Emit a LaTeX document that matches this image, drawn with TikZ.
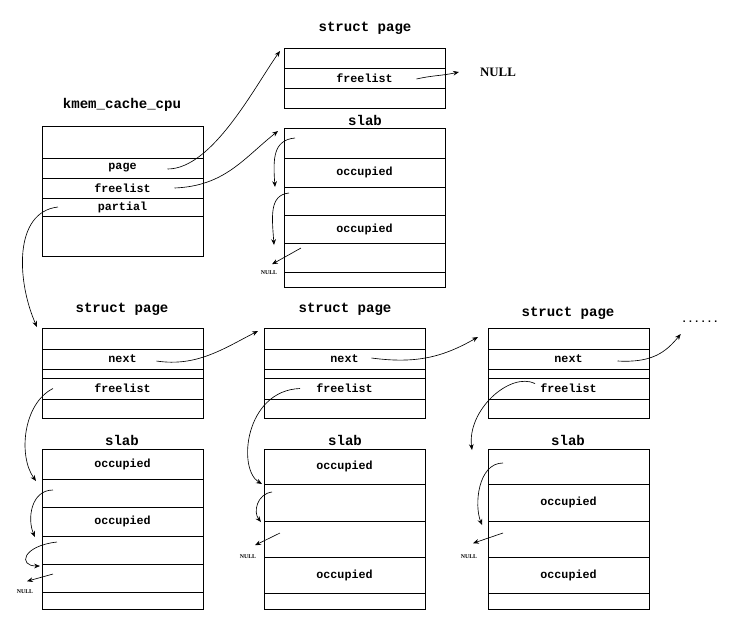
\documentclass[tikz,border=0pt]{standalone}
\usepackage{fontspec}
\newfontfamily\lbl{Liberation Mono}
\newfontfamily\nilfnt{Liberation Serif}
\usetikzlibrary{positioning,arrows.meta}
\tikzset{
  cell/.style={draw, line width=0.6pt, minimum width=4.83cm, inner sep=0pt, outer sep=0pt,
    font=\lbl\bfseries\fontsize{10}{12}\selectfont},
  title/.style={font=\lbl\bfseries\fontsize{12}{14}\selectfont},
  ptr/.style={-{Stealth[length=5pt,width=4pt]}, line width=0.55pt},
  nil/.style={font=\nilfnt\bfseries\fontsize{5}{6}\selectfont, inner sep=0.5pt},
}
\begin{document}
\begin{tikzpicture}[x=0.03cm,y=-0.03cm]
      \useasboundingbox (0,0) rectangle (729,633);
      % kmem_cache_cpu
      \node[title] (kct) at (122,105) {kmem\_cache\_cpu};
      \node[cell, anchor=north west, minimum height=0.96cm] (kc1) at (42,126) {};
      \node[cell, below=0pt of kc1, minimum height=0.6cm] (kc2) {page};
      \node[cell, below=0pt of kc2, minimum height=0.6cm] (kc3) {freelist};
      \node[cell, below=0pt of kc3, minimum height=0.54cm] (kc4) {partial};
      \node[cell, below=0pt of kc4, minimum height=1.2cm] (kc5) {};
      % current page and its slab
      \node[title] (tpt) at (365,28) {struct page};
      \node[cell, anchor=north west, minimum height=0.6cm] (tp1) at (284,48) {};
      \node[cell, below=0pt of tp1, minimum height=0.6cm] (tp2) {freelist};
      \node[cell, below=0pt of tp2, minimum height=0.6cm] (tp3) {};
      \node[font=\nilfnt\bfseries\fontsize{11}{13}\selectfont] (nulltop) at (498,72) {NULL};
      \node[title] (tst) at (365,120) {slab};
      \node[cell, anchor=north west, minimum height=0.9cm] (ts1) at (284,128) {};
      \node[cell, below=0pt of ts1, minimum height=0.87cm] (ts2) {occupied};
      \node[cell, below=0pt of ts2, minimum height=0.84cm] (ts3) {};
      \node[cell, below=0pt of ts3, minimum height=0.84cm] (ts4) {occupied};
      \node[cell, below=0pt of ts4, minimum height=0.87cm] (ts5) {};
      \node[cell, below=0pt of ts5, minimum height=0.45cm] (ts6) {};
      \node[nil] (nila) at (269,273) {NULL};
      % partial list: first page
      \node[title] (lpt) at (122,309) {struct page};
      \node[cell, anchor=north west, minimum height=0.63cm] (lp1) at (42,328) {};
      \node[cell, below=0pt of lp1, minimum height=0.6cm] (lp2) {next};
      \node[cell, below=0pt of lp2, minimum height=0.27cm] (lp3) {};
      \node[cell, below=0pt of lp3, minimum height=0.63cm] (lp4) {freelist};
      \node[cell, below=0pt of lp4, minimum height=0.57cm] (lp5) {};
      \node[title] (lst) at (122,440) {slab};
      \node[cell, anchor=north west, minimum height=0.9cm] (ls1) at (42,449) {occupied};
      \node[cell, below=0pt of ls1, minimum height=0.84cm] (ls2) {};
      \node[cell, below=0pt of ls2, minimum height=0.87cm] (ls3) {occupied};
      \node[cell, below=0pt of ls3, minimum height=0.84cm] (ls4) {};
      \node[cell, below=0pt of ls4, minimum height=0.84cm] (ls5) {};
      \node[cell, below=0pt of ls5, minimum height=0.51cm] (ls6) {};
      \node[nil] (nilb) at (25,592) {NULL};
      % second page
      \node[title] (mpt) at (345,309) {struct page};
      \node[cell, anchor=north west, minimum height=0.63cm] (mp1) at (264,328) {};
      \node[cell, below=0pt of mp1, minimum height=0.6cm] (mp2) {next};
      \node[cell, below=0pt of mp2, minimum height=0.27cm] (mp3) {};
      \node[cell, below=0pt of mp3, minimum height=0.63cm] (mp4) {freelist};
      \node[cell, below=0pt of mp4, minimum height=0.57cm] (mp5) {};
      \node[title] (mst) at (345,440) {slab};
      \node[cell, anchor=north west, minimum height=1.05cm] (ms1) at (264,449) {occupied};
      \node[cell, below=0pt of ms1, minimum height=1.11cm] (ms2) {};
      \node[cell, below=0pt of ms2, minimum height=1.08cm] (ms3) {};
      \node[cell, below=0pt of ms3, minimum height=1.08cm] (ms4) {occupied};
      \node[cell, below=0pt of ms4, minimum height=0.48cm] (ms5) {};
      \node[nil] (nilc) at (248,557) {NULL};
      % third page
      \node[title] (rpt) at (568,313) {struct page};
      \node[cell, anchor=north west, minimum height=0.63cm] (rp1) at (488,328) {};
      \node[cell, below=0pt of rp1, minimum height=0.6cm] (rp2) {next};
      \node[cell, below=0pt of rp2, minimum height=0.27cm] (rp3) {};
      \node[cell, below=0pt of rp3, minimum height=0.63cm] (rp4) {freelist};
      \node[cell, below=0pt of rp4, minimum height=0.57cm] (rp5) {};
      \node[font=\lbl\bfseries\fontsize{9}{11}\selectfont, inner sep=0pt] (dots) at (700,322) {......};
      \node[title] (rst) at (568,440) {slab};
      \node[cell, anchor=north west, minimum height=1.05cm] (rs1) at (488,449) {};
      \node[cell, below=0pt of rs1, minimum height=1.11cm] (rs2) {occupied};
      \node[cell, below=0pt of rs2, minimum height=1.08cm] (rs3) {};
      \node[cell, below=0pt of rs3, minimum height=1.08cm] (rs4) {occupied};
      \node[cell, below=0pt of rs4, minimum height=0.48cm] (rs5) {};
      \node[nil] (nild) at (469,557) {NULL};
      \begin{scope}[ptr]
        % kmem_cache_cpu pointers
        \draw ([shift={(45,1)}]kc2.center) .. controls +(45,0) and +(-25,35) .. ([shift={(-4,3)}]tp1.north west);
        \draw ([shift={(52,0)}]kc3.center) .. controls +(50,-2) and +(-35,28) .. ([shift={(-6,3)}]ts1.north west);
        \draw ([shift={(16,0)}]kc4.west) .. controls +(-45,5) and +(-20,-45) .. ([shift={(-5,-1)}]lp1.north west);
        \draw ([shift={(52,1)}]tp2.center) .. controls +(18,-4) and +(-18,4) .. ([shift={(-17,0)}]nulltop.west);
        % free objects of the current slab
        \draw ([shift={(11,10)}]ts1.north west) .. controls +(-22,2) and +(-2,-28) .. ([shift={(-9,0)}]ts3.north west);
        \draw ([shift={(5,6)}]ts3.north west) .. controls +(-20,2) and +(-2,-28) .. ([shift={(-10,2)}]ts5.north west);
        \draw ([shift={(17,5)}]ts5.north west) -- ([shift={(3,-6)}]nila.north);
        % first partial page
        \draw ([shift={(34,2)}]lp2.center) .. controls +(40,6) and +(-35,18) .. ([shift={(-6,3)}]mp1.north west);
        \draw ([shift={(11,0)}]lp4.west) .. controls +(-30,15) and +(-18,-25) .. ([shift={(-6,2)}]ls2.north west);
        \draw ([shift={(11,11)}]ls2.north west) .. controls +(-22,0) and +(-8,-18) .. ([shift={(-7,1)}]ls4.north west);
        \draw ([shift={(15,6)}]ls4.north west) .. controls +(-35,4) and +(-22,0) .. ([shift={(-2,2)}]ls5.north west);
        \draw ([shift={(11,10)}]ls5.north west) -- ([shift={(2,-8)}]nilb.north);
        % second partial page
        \draw ([shift={(27,-1)}]mp2.center) .. controls +(45,6) and +(-35,20) .. ([shift={(-10,9)}]rp1.north west);
        \draw ([shift={(36,0)}]mp4.west) .. controls +(-55,2) and +(-25,-15) .. ([shift={(-2,0)}]ms2.north west);
        \draw ([shift={(8,8)}]ms2.north west) .. controls +(-15,2) and +(-8,-10) .. ([shift={(-3,1)}]ms3.north west);
        \draw ([shift={(16,12)}]ms3.north west) -- ([shift={(7,-9)}]nilc.north);
        % third partial page
        \draw ([shift={(49,2)}]rp2.center) .. controls +(35,2) and +(-15,18) .. ([shift={(0,12)}]dots.west);
        \draw ([shift={(47,-5)}]rp4.west) .. controls +(-25,-12) and +(-5,-40) .. ([shift={(-16,1)}]rs1.north west);
        \draw ([shift={(15,14)}]rs1.north west) .. controls +(-25,0) and +(-8,-20) .. ([shift={(-6,4)}]rs3.north west);
        \draw ([shift={(15,12)}]rs3.north west) -- ([shift={(4,-11)}]nild.north);
      \end{scope}
    \end{tikzpicture}
\end{document}
